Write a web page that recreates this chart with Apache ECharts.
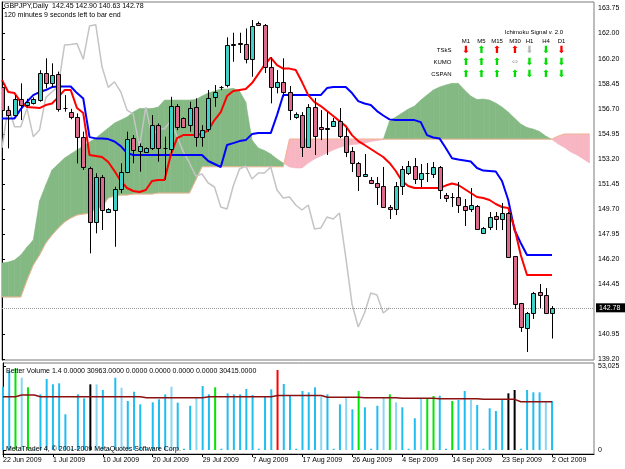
<!DOCTYPE html>
<html>
<head>
<meta charset="utf-8">
<script src="https://cdn.jsdelivr.net/npm/echarts@6/dist/echarts.min.js"></script>
<style>
html,body{margin:0;padding:0;background:#fff}
#chart{width:625px;height:469px}
</style>
</head>
<body>
<div id="chart"></div>
<script>
// GBPJPY daily, 22 Jun 2009 .. 2 Oct 2009 (Sunday bars included)
var dateLabels = ['22 Jun 2009','1 Jul 2009','10 Jul 2009','20 Jul 2009','29 Jul 2009','7 Aug 2009',
                  '17 Aug 2009','26 Aug 2009','4 Sep 2009','14 Sep 2009','23 Sep 2009','2 Oct 2009'];
var dateTicks = [0, 8, 16, 24, 32, 40, 48, 56, 64, 72, 80, 88];

var opens = [158.20,156.61,156.26,157.36,156.96,157.12,157.31,159.18,158.52,159.13,
  156.73,156.50,156.15,154.75,152.54,148.80,151.95,149.50,149.62,151.07,
  152.30,154.63,153.77,153.68,153.93,155.56,153.99,153.87,156.89,156.03,
  155.56,156.80,154.75,155.26,157.50,158.20,158.36,161.16,161.28,161.23,
  160.16,162.72,162.56,159.64,158.20,158.59,157.87,156.12,156.26,154.03,
  156.82,155.42,155.35,155.49,155.84,154.79,153.75,152.91,152.00,151.72,
  151.51,151.30,149.83,149.69,151.30,152.21,152.70,151.79,152.20,152.14,
  152.63,150.67,150.53,150.53,149.90,149.69,149.90,148.01,148.43,149.20,
  148.99,149.41,146.40,143.12,141.37,142.42,143.89,143.68,142.45];
var highs = [158.60,156.90,157.66,158.48,157.40,157.50,159.40,160.23,159.88,159.30,
  157.66,156.70,156.38,155.10,152.65,152.19,152.07,149.75,151.25,152.89,
  155.10,154.86,154.28,154.00,156.26,155.68,154.75,157.54,157.03,156.10,
  157.19,157.43,155.56,158.01,158.36,158.30,161.70,162.02,162.02,162.32,
  162.91,162.80,162.63,160.30,159.41,160.23,158.29,156.45,156.47,157.03,
  157.45,156.61,156.47,156.05,156.75,155.35,154.03,152.98,153.54,151.93,
  151.93,152.63,149.97,151.58,152.70,153.05,153.26,152.84,152.91,152.98,
  152.70,150.81,150.81,151.58,150.39,151.16,149.97,148.43,149.48,149.48,
  150.11,149.48,146.40,143.12,142.49,143.89,144.45,144.16,142.90];
var lows = [156.40,153.93,156.20,155.91,156.80,157.00,157.20,158.13,158.24,156.50,
  156.50,155.97,152.88,152.42,146.59,147.99,148.22,149.45,147.05,150.80,
  152.20,152.89,152.30,153.60,153.82,153.00,151.72,153.58,155.21,155.35,
  155.10,154.05,154.05,155.10,156.84,158.00,158.20,159.99,160.60,159.88,
  158.94,162.50,159.20,157.08,157.78,157.54,155.91,156.00,153.33,153.96,
  153.47,154.51,153.47,155.45,154.65,153.33,152.28,150.95,151.95,151.44,
  149.97,149.76,148.99,149.27,150.67,152.07,151.44,151.23,151.58,151.86,
  150.39,150.18,149.83,149.41,148.50,149.48,148.22,147.94,148.22,148.22,
  148.22,146.26,142.70,141.09,139.69,142.00,142.77,142.35,140.63];
var closes = [156.61,156.26,157.36,156.96,157.19,157.36,159.18,158.48,159.06,156.66,
  156.75,156.15,154.75,152.65,148.80,151.95,149.62,149.67,151.07,152.30,
  154.56,153.82,154.09,153.93,155.56,153.93,153.97,156.89,155.44,155.44,
  156.73,154.75,155.21,157.48,157.89,158.25,161.16,161.20,161.26,160.16,
  162.49,162.58,159.64,158.20,158.59,157.89,156.61,156.33,154.03,156.82,
  154.79,155.28,155.30,155.84,154.79,153.68,152.91,152.00,152.14,151.51,
  151.23,149.83,149.69,151.30,152.49,152.70,151.79,152.21,152.21,152.63,
  151.02,150.46,150.53,149.97,149.62,149.97,148.29,148.36,149.13,148.99,
  149.41,146.33,143.05,141.44,142.42,143.82,143.68,142.42,142.78];

var tenkan = [158.71,157.87,157.80,157.17,156.82,156.79,156.75,156.96,157.07,157.52,
  158.01,158.01,156.75,156.40,153.47,153.40,153.33,152.98,152.35,151.65,
  151.16,150.95,150.88,151.02,151.65,151.72,151.72,153.47,154.65,154.86,
  154.86,154.86,154.93,155.21,155.91,156.47,157.59,157.94,158.01,158.08,
  158.50,159.13,159.76,160.28,159.76,159.51,159.51,159.41,158.57,157.66,
  157.17,156.89,156.54,156.19,155.84,155.49,154.86,154.44,154.17,153.89,
  153.61,153.33,152.91,152.35,151.65,151.30,151.16,151.16,151.16,151.16,
  151.16,151.33,151.47,151.37,151.09,150.81,150.53,150.46,150.32,150.04,
  149.83,149.76,148.36,146.47,145.07,145.07,145.07,145.07,145.07];
var kijun = [156.03,156.03,156.03,156.68,157.19,157.66,157.87,158.01,158.22,158.26,
  158.26,158.26,157.80,157.42,154.72,154.63,154.63,154.58,154.41,154.09,
  153.61,153.47,153.47,153.47,153.47,153.47,153.47,153.47,153.47,153.47,
  153.47,153.47,153.47,153.05,152.84,152.63,154.17,154.30,154.44,154.51,
  154.93,155.00,155.00,155.00,156.26,157.66,157.66,157.66,157.66,157.66,
  157.66,157.66,158.15,158.22,158.22,158.22,157.80,157.24,157.07,156.96,
  156.54,156.23,155.96,155.91,155.91,155.91,155.91,155.77,154.86,154.69,
  154.63,153.96,153.24,153.15,153.08,153.01,152.56,152.38,152.35,152.31,
  151.65,150.32,148.22,147.31,146.47,146.47,146.47,146.47,146.47];
// senkou spans, already shifted 26 bars forward (95 slots)
var spanA = [145.91,145.98,146.12,146.47,147.03,147.52,150.25,151.37,152.42,152.84,
  153.26,153.54,153.82,154.09,154.37,154.65,155.00,155.35,155.70,155.91,
  156.12,156.47,156.72,156.72,156.72,156.82,157.31,157.31,157.31,157.31,
  157.31,157.35,157.59,157.80,157.94,158.08,158.08,158.13,157.94,157.17,
  154.51,153.96,153.78,153.54,153.19,152.91,152.63,152.56,152.56,152.91,
  153.19,153.40,153.61,153.82,153.99,154.13,154.20,154.23,154.30,154.41,
  154.48,154.55,155.84,156.12,156.40,156.68,156.89,157.31,157.66,158.01,
  158.22,158.36,158.48,158.48,158.01,157.59,157.35,157.38,157.31,157.10,
  156.82,156.47,156.05,155.63,155.39,155.28,155.11,154.79,154.55,154.23,
  153.99,153.68,153.47,153.19,152.91];
var spanB = [143.54,143.54,143.54,143.54,144.72,145.77,146.47,147.31,147.87,148.36,
  148.78,149.06,149.27,149.34,149.39,149.69,149.84,150.46,150.60,150.67,
  150.67,150.74,150.74,150.74,150.74,150.81,150.81,150.81,150.81,150.81,
  150.81,151.72,152.65,152.65,152.65,152.65,152.65,152.65,152.65,152.65,
  152.65,152.65,152.65,152.65,152.65,152.65,154.58,154.58,154.58,154.58,
  154.58,154.58,154.58,154.58,154.58,154.58,154.58,154.58,154.58,154.58,
  154.58,154.58,154.58,154.58,154.58,154.58,154.58,154.58,154.58,154.58,
  154.58,154.58,154.58,154.58,154.58,154.58,154.58,154.58,154.58,154.58,
  154.58,154.58,154.58,154.58,154.58,154.58,154.58,154.58,154.58,154.79,
  154.93,154.93,154.93,154.93,154.93];

var volumes = [39940,49850,51550,45620,39560,800,35130,44800,41450,42080,
  22520,800,35130,32620,41450,41450,37860,800,45620,39330,
  30920,36790,28830,800,30100,31990,35130,39940,29890,800,
  27960,33000,40380,35130,39560,800,35780,35130,35130,38490,
  34710,800,33630,38300,50480,41650,34710,800,37230,36400,
  39560,33630,35130,800,28830,33000,25680,37230,26940,800,
  27960,33000,35130,30100,26940,800,20000,33000,32620,34070,
  34280,800,30920,31550,37230,31550,28400,800,26310,24610,
  31550,35780,37860,800,37860,36400,36400,30480,30963];
// b blue, d dotted blue, g green, k black, r red
var volKinds = ['b','b','g','d','g','b','b','b','b','b',
  'b','b','b','b','k','d','b','b','b','d',
  'b','b','b','b','b','b','b','d','b','b',
  'b','d','b','b','g','b','b','b','b','b',
  'b','b','b','b','r','b','b','b','b','b',
  'b','d','b','b','b','d','b','g','b','b',
  'b','d','g','d','b','b','b','d','g','g',
  'b','b','g','b','b','d','b','b','b','b',
  'b','k','k','b','b','b','b','d','b'];
var volMA = [33630,33630,33630,34710,34710,34710,33630,33630,33630,33630,
  33630,33630,33630,33630,33630,33630,33630,33630,33630,33630,
  33630,33630,33630,33000,33000,33000,33000,33000,33000,33000,
  33000,33000,33000,33630,33630,33630,33630,33630,33630,33630,
  33630,33630,33630,33630,34390,34390,34390,34390,34390,34390,
  34390,34390,33250,33250,33250,33250,33250,33250,33000,33000,
  33000,33000,33000,33000,32620,32620,32620,32620,32620,32620,
  32370,32370,32370,32370,32370,32370,32370,31990,31990,31990,
  31990,31990,31990,30415,30415,30415,30415,30415,30415];

var priceTicks = [163.75,162.00,160.20,158.45,156.70,154.95,153.20,151.45,149.70,147.95,146.20,144.45,140.95,139.20];
var volTicks = [0, 53025];

var sigFrames = ['M1','M5','M15','M30','H1','H4','D1'];
var sigRows = ['TSkS','KUMO','CSPAN'];
var sigMarks = [
  ['dr','ug','ur','ur','dn','dg','dr'],
  ['ug','ug','ug','nn','dg','dg','dg'],
  ['ug','ug','ug','ug','dg','ug','dg']
];

var FONT = 'Liberation Sans, Arial, sans-serif';
var BULL = '#3fd0c6', BEAR = '#db6a8c';
var KUMO_UP = '#84b984', KUMO_DN = '#f7b6c2';
var volColor = {b:'#1fbdf0', d:'#8ad6f2', g:'#00e600', k:'#000000', r:'#ff0000'};
var last = closes.length - 1;

var candleData = opens.map(function (o, i) { return [i, o, highs[i], lows[i], closes[i]]; });
var kumoData = spanA.map(function (a, i) { return [i, a, spanB[i]]; });
var chikouData = closes.slice(26).map(function (c, k) { return [k, c]; });

function renderCandle(params, api) {
  var i = api.value(0), o = api.value(1), h = api.value(2), l = api.value(3), c = api.value(4);
  var pH = api.coord([i, h]), pL = api.coord([i, l]);
  var pO = api.coord([i, o]), pC = api.coord([i, c]);
  var x = Math.round(pH[0]) + 0.5;
  var top = Math.round(Math.min(pO[1], pC[1])) + 0.5;
  var bot = Math.round(Math.max(pO[1], pC[1])) + 0.5;
  var kids = [{type: 'line', shape: {x1: x, y1: pH[1], x2: x, y2: pL[1]}, style: {stroke: '#000', lineWidth: 1}}];
  if (bot - top < 1) {
    kids.push({type: 'line', shape: {x1: x - 2, y1: top, x2: x + 2, y2: top}, style: {stroke: '#000', lineWidth: 1}});
  } else {
    kids.push({type: 'rect', shape: {x: x - 2, y: top, width: 4, height: bot - top},
      style: {fill: c >= o ? BULL : BEAR, stroke: '#000', lineWidth: 1}});
  }
  return {type: 'group', children: kids};
}

function renderKumo(params, api) {
  var i = api.value(0);
  if (i >= spanA.length - 1) return null;
  var a1 = spanA[i], b1 = spanB[i], a2 = spanA[i + 1], b2 = spanB[i + 1];
  var A1 = api.coord([i, a1]), B1 = api.coord([i, b1]);
  var A2 = api.coord([i + 1, a2]), B2 = api.coord([i + 1, b2]);
  var d1 = a1 - b1, d2 = a2 - b2;
  function poly(pts, d) {
    var col = d >= 0 ? KUMO_UP : KUMO_DN;
    return {type: 'polygon', shape: {points: pts}, style: {fill: col, stroke: col, lineWidth: 0.6}};
  }
  if (d1 * d2 >= 0) return poly([A1, A2, B2, B1], d1 + d2);
  var t = d1 / (d1 - d2);
  var X = api.coord([i + t, a1 + t * (a2 - a1)]);
  return {type: 'group', children: [poly([A1, X, B1], d1), poly([X, A2, B2], d2)]};
}

var txt = function (x, y, s, opt) {
  opt = opt || {};
  return {type: 'text', x: x, y: y, silent: true, z: 100,
    style: {text: s, fill: opt.fill || '#000', fontSize: opt.size || 7, fontFamily: opt.family || FONT,
      align: opt.align || 'left', verticalAlign: 'middle', fontWeight: opt.weight || 'normal'}};
};

var graphics = [
  txt(4, 6, 'GBPJPY,Daily  ' + opens[last].toFixed(2) + ' ' + highs[last].toFixed(2) + ' ' +
    lows[last].toFixed(2) + ' ' + closes[last].toFixed(2)),
  txt(4, 15, '120 minutes 9 seconds left to bar end'),
  txt(6, 371, 'Better Volume 1.4 0.0000 ' + volumes[last].toFixed(4) + ' 0.0000 0.0000 0.0000 0.0000 ' +
    volMA[last].toFixed(4)),
  txt(6, 449, 'MetaTrader 4, \u00a9 2001-2009 MetaQuotes Software Corp.'),
  txt(563, 32, 'Ichimoku Signal v. 2.0', {size: 6, align: 'right'})
];
var colX = [466, 481.5, 497, 515, 529.5, 546, 561.5];
var rowY = [50, 62, 74];
sigFrames.forEach(function (f, c) { graphics.push(txt(colX[c], 41, f, {size: 6, align: 'center'})); });
sigRows.forEach(function (r, k) {
  graphics.push(txt(451.5, rowY[k], r, {size: 6, align: 'right'}));
  sigMarks[k].forEach(function (m, c) {
    var glyph = m === 'nn' ? '\u21d4' : (m[0] === 'u' ? '\u2b06' : '\u2b07');
    var col = {r: '#ff0000', g: '#00dd00', n: '#b8b8b8'}[m[1]];
    graphics.push(txt(colX[c], rowY[k], glyph, {size: m === 'nn' ? 8 : 10, align: 'center', fill: col, family: 'DejaVu Sans'}));
  });
});

var chart = echarts.init(document.getElementById('chart'));
chart.setOption({
  animation: false,
  backgroundColor: '#ffffff',
  textStyle: {fontFamily: FONT},
  grid: [
    {left: 2, top: 2, width: 592, height: 358, show: true, borderColor: '#7a7a7a', borderWidth: 1},
    {left: 2, top: 363, width: 592, height: 91, show: true, borderColor: '#7a7a7a', borderWidth: 1}
  ],
  xAxis: [
    {type: 'value', gridIndex: 0, min: 0, max: 94.72, axisLine: {show: false}, axisTick: {show: false},
      axisLabel: {show: false}, splitLine: {show: false}},
    {type: 'value', gridIndex: 1, min: 0, max: 94.72,
      axisLine: {show: true, onZero: false, lineStyle: {color: '#000'}},
      axisTick: {show: true, customValues: dateTicks, length: 3, lineStyle: {color: '#000'}},
      axisLabel: {customValues: dateTicks, align: 'left', margin: 3, fontSize: 7, color: '#000',
        formatter: function (v) { return dateLabels[Math.round(v / 8)] || ''; }},
      splitLine: {show: false}}
  ],
  yAxis: [
    {type: 'value', gridIndex: 0, position: 'right', min: 139.13, max: 164.17,
      axisLine: {show: true, lineStyle: {color: '#000'}},
      axisTick: {show: true, customValues: priceTicks, length: 3, lineStyle: {color: '#000'}},
      axisLabel: {customValues: priceTicks, margin: 4, fontSize: 7, color: '#000',
        formatter: function (v) { return v.toFixed(2); }},
      splitLine: {show: false}},
    {type: 'value', gridIndex: 1, position: 'right', min: -2525, max: 54919,
      axisLine: {show: true, lineStyle: {color: '#000'}},
      axisTick: {show: true, customValues: volTicks, length: 3, lineStyle: {color: '#000'}},
      axisLabel: {customValues: volTicks, margin: 4, fontSize: 7, color: '#000'},
      splitLine: {show: false}}
  ],
  series: [
    {type: 'custom', name: 'Kumo', xAxisIndex: 0, yAxisIndex: 0, clip: true, z: 1,
      renderItem: renderKumo, encode: {x: 0, y: [1, 2]}, data: kumoData},
    {type: 'line', name: 'Senkou B', xAxisIndex: 0, yAxisIndex: 0, z: 2, showSymbol: false,
      lineStyle: {color: '#f2b594', width: 1}, data: spanB.map(function (v, i) { return [i, v]; })},
    {type: 'line', name: 'Chikou', xAxisIndex: 0, yAxisIndex: 0, z: 3, showSymbol: false,
      lineStyle: {color: '#c4c4c4', width: 1.5}, data: chikouData},
    {type: 'line', name: 'Kijun', xAxisIndex: 0, yAxisIndex: 0, z: 4, showSymbol: false,
      lineStyle: {color: '#0000ff', width: 2}, data: kijun.map(function (v, i) { return [i, v]; })},
    {type: 'line', name: 'Tenkan', xAxisIndex: 0, yAxisIndex: 0, z: 5, showSymbol: false,
      lineStyle: {color: '#ff0000', width: 2}, data: tenkan.map(function (v, i) { return [i, v]; }),
      markLine: {silent: true, symbol: 'none', lineStyle: {color: '#9a9a9a', type: 'dotted', width: 1},
        label: {position: 'end', formatter: closes[last].toFixed(2), backgroundColor: '#000', color: '#fff',
          fontSize: 7, padding: [1, 5, 1, 3], distance: 2},
        data: [{yAxis: closes[last]}]}},
    {type: 'custom', name: 'GBPJPY', xAxisIndex: 0, yAxisIndex: 0, clip: true, z: 6,
      renderItem: renderCandle, encode: {x: 0, y: [1, 2, 3, 4]}, data: candleData},
    {type: 'bar', name: 'Volume', xAxisIndex: 1, yAxisIndex: 1, barWidth: 2,
      data: volumes.map(function (v, i) { return {value: [i, v], itemStyle: {color: volColor[volKinds[i]]}}; })},
    {type: 'line', name: 'Volume MA', xAxisIndex: 1, yAxisIndex: 1, showSymbol: false, z: 5,
      lineStyle: {color: '#8b1010', width: 1.5}, data: volMA.map(function (v, i) { return [i, v]; })}
  ],
  graphic: graphics
});
</script>
</body>
</html>
